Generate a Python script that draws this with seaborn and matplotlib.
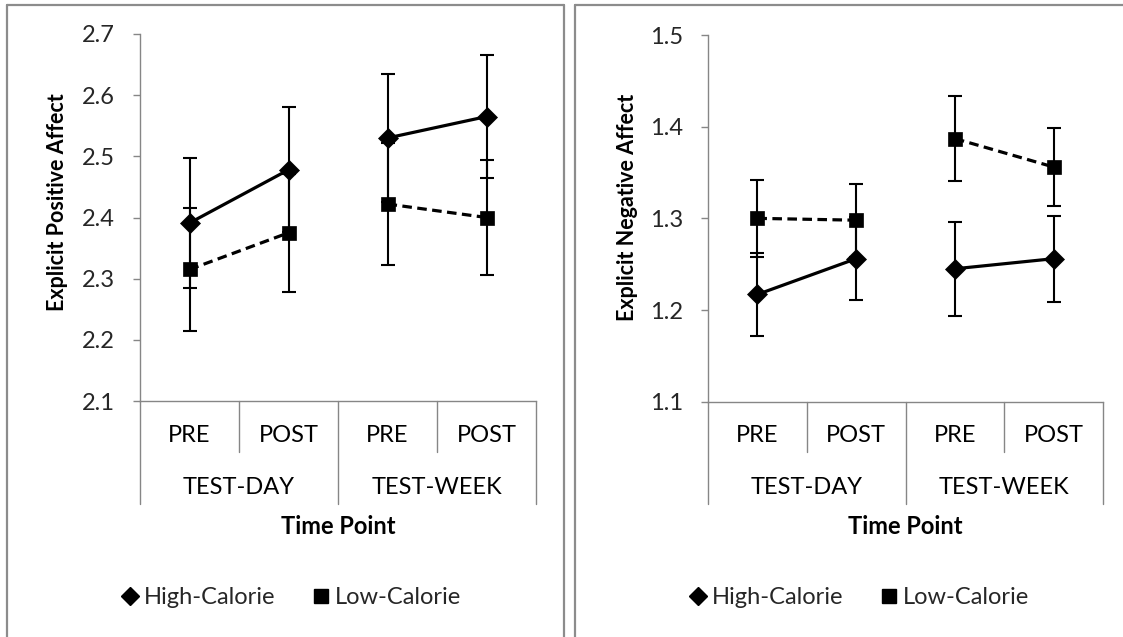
import numpy as np
import pandas as pd
import matplotlib
matplotlib.use("Agg")
import matplotlib.pyplot as plt
import matplotlib.transforms as mtransforms
from matplotlib.lines import Line2D
import seaborn as sns

# ---------------- data ----------------
time_labels = ["PRE", "POST", "PRE", "POST"]
session_labels = ["TEST-DAY", "TEST-WEEK"]
sessions = ["TEST-DAY", "TEST-DAY", "TEST-WEEK", "TEST-WEEK"]
conditions = ["High-Calorie", "Low-Calorie"]

pos_high = [2.391, 2.478, 2.530, 2.565]
pos_high_err = [0.107, 0.102, 0.104, 0.101]
pos_low = [2.315, 2.375, 2.422, 2.400]
pos_low_err = [0.100, 0.096, 0.099, 0.094]

neg_high = [1.217, 1.256, 1.245, 1.256]
neg_high_err = [0.045, 0.045, 0.051, 0.047]
neg_low = [1.300, 1.298, 1.387, 1.356]
neg_low_err = [0.042, 0.040, 0.046, 0.043]

y_labels = ["Explicit Positive Affect", "Explicit Negative Affect"]
x_title = "Time Point"
y_ranges = [(2.1, 2.7), (1.1, 1.5)]

# ---------------- style ----------------
sns.set_theme(style="white")
plt.rcParams["font.family"] = ["Lato", "DejaVu Sans"]
GRAY = "#868686"
FS = 17
FS_YLAB = 15.5

W, H = 1123, 637
fig = plt.figure(figsize=(W / 100, H / 100), dpi=100)


def fy(ypx):
    return 1 - ypx / H


def fx(xpx):
    return xpx / W


# panel borders
bc = "#8c8c8c"
for (x0, x1) in [(7, 564), (575, 1125)]:
    fig.add_artist(Line2D([fx(x0), fx(x1)], [fy(5), fy(5)], color=bc, lw=1.6,
                          transform=fig.transFigure))
    fig.add_artist(Line2D([fx(x0), fx(x0)], [fy(5), fy(640)], color=bc, lw=1.6,
                          transform=fig.transFigure))
fig.add_artist(Line2D([fx(564), fx(564)], [fy(5), fy(640)], color=bc, lw=1.6,
                      transform=fig.transFigure))

panels = [
    dict(ax_px=(140, 34, 536, 401), high=pos_high, high_err=pos_high_err,
         low=pos_low, low_err=pos_low_err, ylab=y_labels[0], ylab_px=(58, 202),
         leg_x=292, yr=y_ranges[0]),
    dict(ax_px=(708, 35, 1103, 401.7), high=neg_high, high_err=neg_high_err,
         low=neg_low, low_err=neg_low_err, ylab=y_labels[1], ylab_px=(627, 207),
         leg_x=860, yr=y_ranges[1]),
]

xs = np.arange(4)

for p in panels:
    l, t, r, b = p["ax_px"]
    ax = fig.add_axes([fx(l), fy(b), (r - l) / W, (b - t) / H])
    df = pd.DataFrame({
        "x": np.concatenate([xs, xs]),
        "value": p["high"] + p["low"],
        "err": p["high_err"] + p["low_err"],
        "condition": [conditions[0]] * 4 + [conditions[1]] * 4,
        "segment": sessions + sessions,
    })
    # error bars
    for cond in conditions:
        d = df[df["condition"] == cond]
        ax.errorbar(d["x"], d["value"], yerr=d["err"], fmt="none", ecolor="black",
                    elinewidth=1.5, capsize=4.8, capthick=1.5, zorder=2)
    sns.lineplot(data=df, x="x", y="value", hue="condition", style="condition",
                 units="segment", estimator=None, sort=True,
                 palette={conditions[0]: "black", conditions[1]: "black"},
                 dashes={conditions[0]: "", conditions[1]: (3, 1.7)},
                 markers={conditions[0]: "D", conditions[1]: "s"},
                 markersize=10.5, markeredgecolor="black", markeredgewidth=0.5,
                 linewidth=2.3, legend=False, ax=ax, zorder=3)

    ax.set_xlim(-0.5, 3.5)
    ax.set_ylim(*p["yr"])
    ax.set_yticks(np.round(np.arange(p["yr"][0], p["yr"][1] + 0.001, 0.1), 1))
    ax.yaxis.set_major_formatter(matplotlib.ticker.FormatStrFormatter("%.1f"))
    ax.set_xticks([])
    ax.set_xlabel("")
    ax.set_ylabel("")
    for s in ["top", "right"]:
        ax.spines[s].set_visible(False)
    for s in ["left", "bottom"]:
        ax.spines[s].set_color(GRAY)
        ax.spines[s].set_linewidth(1.0)
    ax.tick_params(axis="y", which="major", direction="out", length=5, width=1.0,
                   color=GRAY, labelsize=FS, pad=13, left=True)
    ax.set_facecolor("white")

    # category axis
    trans = mtransforms.blended_transform_factory(ax.transData, fig.transFigure)
    for xv, depth in [(-0.5, 504), (0.5, 452), (1.5, 504), (2.5, 452), (3.5, 504)]:
        ax.add_line(Line2D([xv, xv], [fy(b), fy(depth)], color=GRAY, lw=1.0,
                           transform=trans, clip_on=False))
    for xv, lab in zip(xs, time_labels):
        ax.text(xv, fy(436), lab, transform=trans, ha="center", va="center",
                fontsize=FS, color="black")
    for xv, lab in zip([0.5, 2.5], session_labels):
        ax.text(xv, fy(487), lab, transform=trans, ha="center", va="center",
                fontsize=FS, color="black")
    ax.text(1.5, fy(526), x_title, transform=trans, ha="center", va="center",
            fontsize=FS, fontweight="bold", color="black")

    # y label
    fig.text(fx(p["ylab_px"][0]), fy(p["ylab_px"][1]), p["ylab"], rotation=90,
             ha="center", va="center", fontsize=FS_YLAB, fontweight="bold", color="black")

    # legend
    handles = [Line2D([], [], color="black", marker="D", linestyle="none", markersize=9),
               Line2D([], [], color="black", marker="s", linestyle="none", markersize=10.5)]
    fig.legend(handles, conditions, loc="center", ncol=2,
               bbox_to_anchor=(fx(p["leg_x"]), fy(598)), frameon=False,
               fontsize=FS, handlelength=0.6, handletextpad=0.3, columnspacing=1.6,
               borderaxespad=0, borderpad=0)

fig.savefig("out.png", dpi=100, facecolor="white")
